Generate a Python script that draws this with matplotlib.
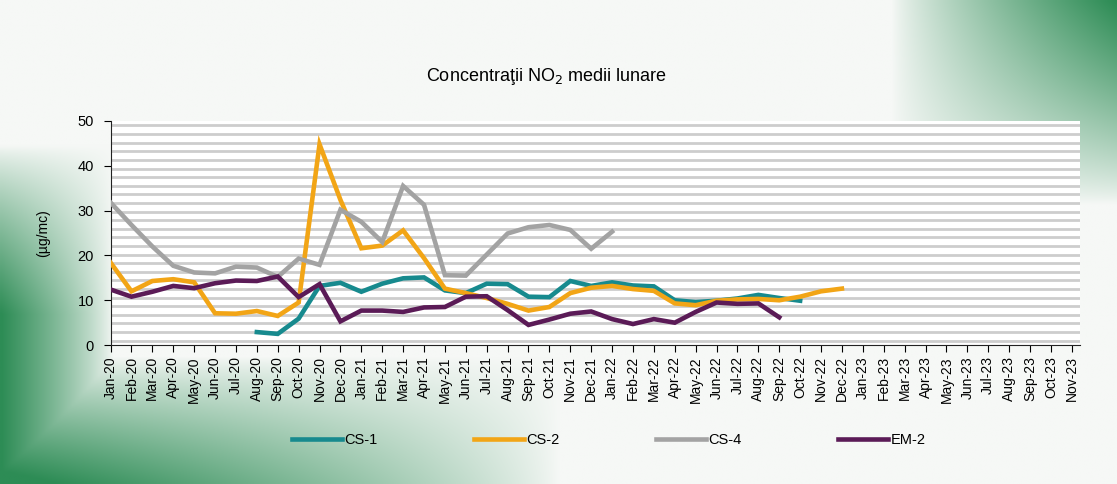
import numpy as np
import matplotlib
matplotlib.use("Agg")
import matplotlib.pyplot as plt

plt.rcParams['font.family'] = ['Liberation Sans', 'DejaVu Sans']

# --- date lunare ---
luni = ['Jan-20', 'Feb-20', 'Mar-20', 'Apr-20', 'May-20', 'Jun-20', 'Jul-20', 'Aug-20',
        'Sep-20', 'Oct-20', 'Nov-20', 'Dec-20', 'Jan-21', 'Feb-21', 'Mar-21', 'Apr-21',
        'May-21', 'Jun-21', 'Jul-21', 'Aug-21', 'Sep-21', 'Oct-21', 'Nov-21', 'Dec-21',
        'Jan-22', 'Feb-22', 'Mar-22', 'Apr-22', 'May-22', 'Jun-22', 'Jul-22', 'Aug-22',
        'Sep-22', 'Oct-22', 'Nov-22', 'Dec-22', 'Jan-23', 'Feb-23', 'Mar-23', 'Apr-23',
        'May-23', 'Jun-23', 'Jul-23', 'Aug-23', 'Sep-23', 'Oct-23', 'Nov-23']

nan = np.nan
cs1 = [nan, nan, nan, nan, nan, nan, nan, 2.9, 2.5, 5.9, 13.2, 13.9, 11.9, 13.7, 14.9, 15.1,
       12.2, 11.6, 13.7, 13.6, 10.8, 10.7, 14.3, 13.2, 14.0, 13.3, 13.1, 10.0, 9.6, 9.9, 10.4, 11.2,
       10.5, 9.9]
cs2 = [18.4, 12.0, 14.3, 14.7, 14.0, 7.1, 7.0, 7.6, 6.5, 9.5, 44.8, 32.4, 21.6, 22.2, 25.6, 19.4,
       12.6, 11.6, 10.5, 9.2, 7.7, 8.5, 11.6, 12.8, 13.2, 12.5, 12.1, 9.3, 8.9, 9.9, 10.2, 10.3,
       10.0, 10.8, 12.0, 12.6]
cs4 = [31.8, 26.8, 22.0, 17.7, 16.2, 16.0, 17.5, 17.3, 15.2, 19.3, 17.9, 30.2, 27.5, 23.0, 35.5, 31.3,
       15.6, 15.5, 20.2, 24.9, 26.3, 26.8, 25.7, 21.5, 25.3]
em2 = [12.4, 10.8, 11.9, 13.2, 12.7, 13.8, 14.4, 14.3, 15.3, 10.7, 13.6, 5.3, 7.7, 7.7, 7.4, 8.4,
       8.5, 10.8, 10.9, 7.8, 4.5, 5.7, 7.0, 7.5, 5.8, 4.7, 5.8, 5.0, 7.4, 9.5, 9.2, 9.3,
       6.2]

serii = [('CS-1', cs1, '#178a8e'), ('CS-2', cs2, '#f2a516'),
         ('CS-4', cs4, '#a3a3a3'), ('EM-2', em2, '#5b1b57')]

fig = plt.figure(figsize=(11.17, 4.84), dpi=100)

# fundal cu degrade verde (foaia fotografiata)
bg = fig.add_axes([0, 0, 1, 1], zorder=-10)
gx, gy = np.meshgrid(np.linspace(0, 1, 300), np.linspace(0, 1, 150))  # gy=0 sus
w_st = np.clip(1 - gx / 0.1, 0, 1) * np.clip((gy - 0.3) / 0.35, 0, 1)
w_jos = np.clip((gy - 0.74) / 0.26, 0, 1) * np.clip(1 - gx / 0.5, 0, 1)
w_dr = np.clip((gx - 0.8) / 0.2, 0, 1) * np.clip(1 - gy / 0.42, 0, 1)
w = np.clip(np.maximum.reduce([w_st, w_jos * 1.1, w_dr]), 0, 1) ** 0.8
verde = np.array([45, 140, 85]) / 255
alb = np.array([246, 248, 246]) / 255
img = alb[None, None, :] * (1 - w[..., None]) + verde[None, None, :] * w[..., None]
bg.imshow(img, aspect='auto', extent=(0, 1, 1, 0), interpolation='bilinear')
bg.set_xlim(0, 1)
bg.set_ylim(1, 0)
bg.axis('off')

ax = fig.add_axes([0.099, 0.287, 0.868, 0.463])
ax.set_facecolor('white')
x = np.arange(len(luni))

# dungi gri ale zonei de grafic
for yy in np.arange(1, 50, 1.92):
    ax.axhline(yy, color='#cdcdcd', lw=2.0, zorder=1)

for nume, val, cul in serii:
    ax.plot(x[:len(val)], val, color=cul, lw=3.3, label=nume, zorder=3,
            solid_joinstyle='miter')

ax.set_xlim(0, 46.4)
ax.set_ylim(0, 50)
ax.set_yticks([0, 10, 20, 30, 40, 50])
ax.set_xticks(x)
ax.set_xticklabels(luni, rotation=90, fontsize=10)
ax.tick_params(axis='y', labelsize=10.5, length=5, direction='out', pad=7)
ax.tick_params(axis='x', length=5, direction='out', pad=3)
for s in ['top', 'right']:
    ax.spines[s].set_visible(False)
ax.spines['left'].set_color('#222222')
ax.spines['bottom'].set_color('#222222')
ax.set_ylabel('(µg/mc)', fontsize=10, labelpad=20)

fig.text(0.489, 0.832, 'Concentraţii NO$_2$ medii lunare', ha='center', fontsize=13)

fig.legend(loc='lower center', bbox_to_anchor=(0.545, 0.05), ncol=4, frameon=False,
           handlelength=3.4, columnspacing=6.6, handletextpad=0.2, fontsize=10.5)

fig.savefig('out.png', dpi=100)
